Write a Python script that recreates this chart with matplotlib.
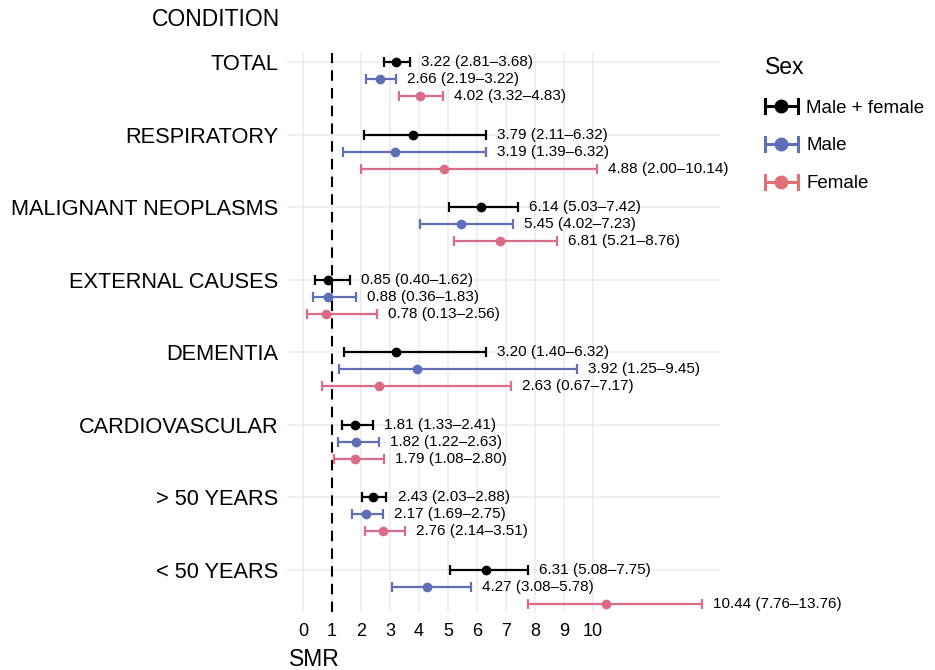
import matplotlib
matplotlib.use("Agg")
import matplotlib.pyplot as plt
from matplotlib.legend_handler import HandlerBase
from matplotlib.lines import Line2D
import numpy as np

plt.rcParams['font.family'] = ['Liberation Sans', 'DejaVu Sans']

# -----------------------------------------------------------
# data
# -----------------------------------------------------------

conditions = ["TOTAL", "RESPIRATORY", "MALIGNANT NEOPLASMS", "EXTERNAL CAUSES",
              "DEMENTIA", "CARDIOVASCULAR", "> 50 YEARS", "< 50 YEARS"]
groups = ["Male + female", "Male", "Female"]

smr_all = [3.22, 3.79, 6.14, 0.85, 3.20, 1.81, 2.43, 6.31]
lo_all = [2.81, 2.11, 5.03, 0.40, 1.40, 1.33, 2.03, 5.08]
hi_all = [3.68, 6.32, 7.42, 1.62, 6.32, 2.41, 2.88, 7.75]

smr_male = [2.66, 3.19, 5.45, 0.88, 3.92, 1.82, 2.17, 4.27]
lo_male = [2.19, 1.39, 4.02, 0.36, 1.25, 1.22, 1.69, 3.08]
hi_male = [3.22, 6.32, 7.23, 1.83, 9.45, 2.63, 2.75, 5.78]

smr_female = [4.02, 4.88, 6.81, 0.78, 2.63, 1.79, 2.76, 10.44]
lo_female = [3.32, 2.00, 5.21, 0.13, 0.67, 1.08, 2.14, 7.76]
hi_female = [4.83, 10.14, 8.76, 2.56, 7.17, 2.80, 3.51, 13.76]

series = [(smr_all, lo_all, hi_all), (smr_male, lo_male, hi_male),
          (smr_female, lo_female, hi_female)]
colors = ["#000000", "#5F6FB7", "#DB6B89"]
legend_colors = ["#000000", "#5F6FB7", "#E07076"]
offsets = [0.0, 0.234, 0.468]


class HandlerPointRange(HandlerBase):
    # line with caps at both ends and a point in the middle
    def create_artists(self, legend, orig_handle, xdescent, ydescent,
                       width, height, fontsize, trans):
        col = orig_handle.get_color()
        y = height / 2 - ydescent
        x0, x1 = -xdescent, width - xdescent
        ch = 5
        arts = [
            Line2D([x0, x1], [y, y], color=col, lw=2.2),
            Line2D([x0, x0], [y-ch, y+ch], color=col, lw=2.2),
            Line2D([x1, x1], [y-ch, y+ch], color=col, lw=2.2),
            Line2D([(x0+x1)/2], [y], color=col, marker='o', ms=9, ls='none'),
        ]
        for a in arts:
            a.set_transform(trans)
        return arts


# -----------------------------------------------------------
# plot
# -----------------------------------------------------------

fig = plt.figure(figsize=(9.35, 6.7), dpi=100)
ax = fig.add_axes([287/935, 1-612/670, (720-287)/935, (612-53)/670])

ypos = np.arange(len(conditions))
handles = []
for (smr, lo, hi), col, lcol, off in zip(series, colors, legend_colors, offsets):
    smr = np.array(smr)
    lo = np.array(lo)
    hi = np.array(hi)
    y = ypos + off
    ax.errorbar(smr, y, xerr=[smr-lo, hi-smr], fmt='o', color=col,
                ms=6, lw=1.6, capsize=3.3, capthick=1.6, zorder=3)
    handles.append(Line2D([], [], color=lcol))
    for s, l, u, yy in zip(smr, lo, hi, y):
        ax.annotate(f"{s:.2f} ({l:.2f}\u2013{u:.2f})", (u, yy), xytext=(8, 0),
                    textcoords='offset points', va='center', ha='left',
                    fontsize=11, color='black')

ax.axvline(1, color='black', lw=1.5, ls=(0, (5, 3.5)), zorder=2)

ax.set_xlim(-0.55, 14.38)
ax.set_ylim(7.58, -0.124)
ax.set_xticks(range(0, 11))
ax.set_yticks(ypos)
ax.set_yticklabels(conditions, fontsize=15.7)
ax.tick_params(axis='x', labelsize=13, length=0, pad=8)
ax.tick_params(axis='y', length=0, pad=6)
ax.grid(True, color='#EBEBEB', lw=1.1, zorder=0)
ax.set_axisbelow(True)
for sp in ax.spines.values():
    sp.set_visible(False)

fig.text(280/935, 1-20/670, "CONDITION", ha='right', va='center', fontsize=16.5)
fig.text(289/935, 1-659/670, "SMR", ha='left', va='center', fontsize=16.5)

leg = fig.legend(handles=handles, labels=groups, loc='upper left',
                 bbox_to_anchor=(748/935, 1-39/670), frameon=False,
                 fontsize=13.5, title="Sex", title_fontsize=16.5,
                 handlelength=1.76, labelspacing=1.1, handletextpad=0.45,
                 handler_map={Line2D: HandlerPointRange()})
leg._legend_box.align = "left"

fig.savefig("out.png", dpi=100)
